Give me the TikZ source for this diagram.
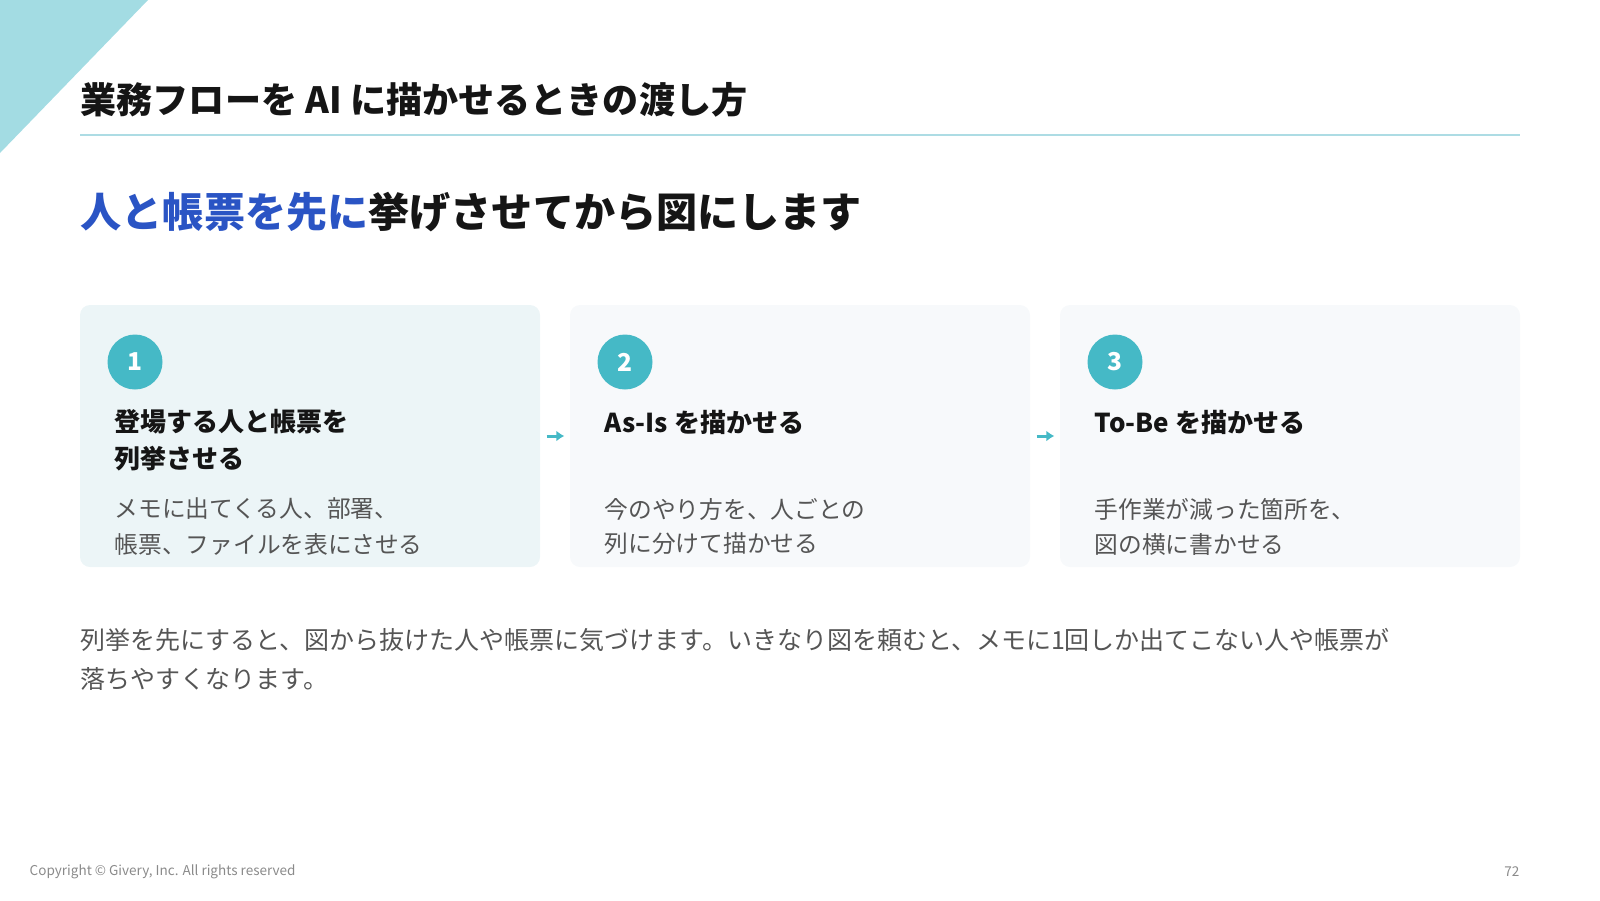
\documentclass[tikz,border=0pt]{standalone}
\usepackage{fontspec}
\setmainfont{Noto Sans CJK JP}
\usetikzlibrary{arrows.meta}
\pgfdeclarelayer{edgelayer}
\pgfdeclarelayer{nodelayer}
\pgfsetlayers{edgelayer,nodelayer,main}
\definecolor{accent}{HTML}{45B9C6}
\definecolor{corner}{HTML}{A3DCE3}
\definecolor{rulecol}{HTML}{ADDCE4}
\definecolor{subblue}{HTML}{2A54C4}
\definecolor{cardteal}{HTML}{ECF5F7}
\definecolor{cardgray}{HTML}{F7F9FB}
\definecolor{ink}{HTML}{151515}
\definecolor{bodygray}{HTML}{555555}
\definecolor{footgray}{HTML}{8A8A8A}
\tikzstyle{none}=[inner sep=0pt]
\tikzstyle{card}=[rectangle,rounded corners=0.1cm,fill=cardgray,minimum width=4.6cm,minimum height=2.62cm,inner sep=0pt]
\tikzstyle{firstcard}=[card,fill=cardteal]
\tikzstyle{badge}=[circle,fill=accent,minimum size=0.55cm,inner sep=0pt,text=white,font=\bfseries\fontsize{7}{8}\selectfont]
\tikzstyle{heading}=[anchor=west,inner sep=0pt,text=ink,font=\bfseries\fontsize{7.4}{9}\selectfont]
\tikzstyle{body}=[anchor=west,inner sep=0pt,text=bodygray,font=\fontsize{6.75}{8}\selectfont]
\tikzstyle{flow}=[-{Latex[length=0.08cm,width=0.11cm]},draw=accent,line width=0.03cm,shorten <=0.06cm,shorten >=0.05cm]

\begin{document}
\begin{tikzpicture}
	\useasboundingbox (0, 0) rectangle (16, -9);
	\begin{pgfonlayer}{edgelayer}
		\fill [corner] (0, 0) -- (1.48, 0) -- (0, -1.53) -- cycle;
		\draw [rulecol, line width=0.02cm] (0.8, -1.35) -- (15.2, -1.35);
	\end{pgfonlayer}
	\begin{pgfonlayer}{nodelayer}
		\node [style=none, anchor=west, text=ink, font=\bfseries\fontsize{10.27}{12}\selectfont] (0) at (0.8, -1) {業務フローを AI に描かせるときの渡し方};
		\node [style=none, anchor=west, text=ink, font=\bfseries\fontsize{11.7}{14}\selectfont] (1) at (0.8, -2.12) {\textcolor{subblue}{人と帳票を先に}挙げさせてから図にします};
		\node [style=firstcard] (2) at (3.1, -4.36) {};
		\node [style=card] (3) at (8, -4.36) {};
		\node [style=card] (4) at (12.9, -4.36) {};
		\node [style=badge] (5) at (1.35, -3.62) {1};
		\node [style=badge] (6) at (6.25, -3.62) {2};
		\node [style=badge] (7) at (11.15, -3.62) {3};
		\node [style=heading] (8) at (1.14, -4.22) {登場する人と帳票を};
		\node [style=heading] (9) at (1.14, -4.59) {列挙させる};
		\node [style=heading] (10) at (6.04, -4.22) {As-Is を描かせる};
		\node [style=heading] (11) at (10.94, -4.22) {To-Be を描かせる};
		\node [style=body] (12) at (1.14, -5.09) {メモに出てくる人、部署、};
		\node [style=body] (13) at (1.14, -5.44) {帳票、ファイルを表にさせる};
		\node [style=body] (14) at (6.04, -5.09) {今のやり方を、人ごとの};
		\node [style=body] (15) at (6.04, -5.44) {列に分けて描かせる};
		\node [style=body] (16) at (10.94, -5.09) {手作業が減った箇所を、};
		\node [style=body] (17) at (10.94, -5.44) {図の横に書かせる};
		\node [style=none, anchor=west, text=bodygray, font=\fontsize{7.11}{9}\selectfont] (18) at (0.8, -6.4) {列挙を先にすると、図から抜けた人や帳票に気づけます。いきなり図を頼むと、メモに1回しか出てこない人や帳票が};
		\node [style=none, anchor=west, text=bodygray, font=\fontsize{7.11}{9}\selectfont] (19) at (0.8, -6.79) {落ちやすくなります。};
		\node [style=none, anchor=west, text=footgray, font=\fontsize{3.85}{4.5}\selectfont] (20) at (0.29, -8.72) {Copyright © Givery, Inc. All rights reserved};
		\node [style=none, anchor=east, text=footgray, font=\fontsize{3.85}{4.5}\selectfont] (21) at (15.2, -8.72) {72};
	\end{pgfonlayer}
	\begin{pgfonlayer}{edgelayer}
		\draw [style=flow] (2) to (3);
		\draw [style=flow] (3) to (4);
	\end{pgfonlayer}
\end{tikzpicture}
\end{document}
